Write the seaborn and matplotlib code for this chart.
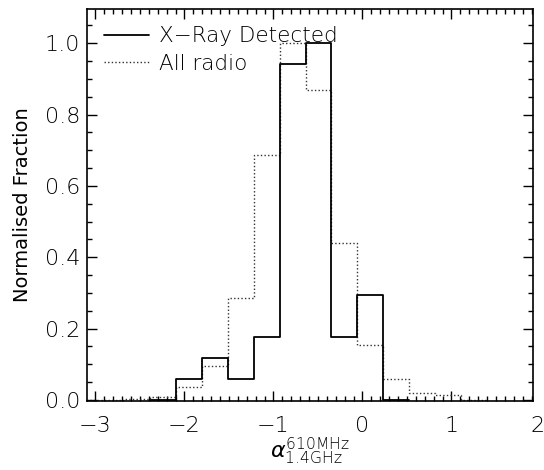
import matplotlib
matplotlib.use("Agg")
import matplotlib.pyplot as plt
from matplotlib.ticker import MultipleLocator
import numpy as np
import pandas as pd
import seaborn as sns

# bins (spectral index); empty end bins close the outline
bin_width = 0.292
xray_edges = list(-2.392 + bin_width * np.arange(11))
xray_frac = [0.0, 0.059, 0.118, 0.059, 0.176, 0.941, 1.0, 0.176, 0.294, 0.0]

radio_edges = list(-3.268 + bin_width * np.arange(17))
radio_frac = [0.0, 0.001, 0.003, 0.007, 0.037, 0.095, 0.287, 0.687, 1.0,
              0.869, 0.441, 0.154, 0.058, 0.019, 0.013, 0.0]

xticks = [-3, -2, -1, 0, 1, 2]
yticks = [0.0, 0.2, 0.4, 0.6, 0.8, 1.0]

sns.set_style("ticks")
plt.rcParams["font.family"] = ["DejaVu Sans"]
plt.rcParams["font.weight"] = "light"
plt.rcParams["text.color"] = "black"
plt.rcParams["axes.labelcolor"] = "black"

fig = plt.figure(figsize=(5.44, 4.70), dpi=100)
ax = fig.add_axes([87 / 544, 69 / 470, 446 / 544, 392 / 470])

radio_df = pd.DataFrame({"alpha": np.convolve(radio_edges, [0.5, 0.5], "valid"),
                         "frac": radio_frac})
xray_df = pd.DataFrame({"alpha": np.convolve(xray_edges, [0.5, 0.5], "valid"),
                        "frac": xray_frac})

sns.histplot(data=radio_df, x="alpha", weights="frac", bins=radio_edges,
             element="step", fill=False, color="#333333", linewidth=1.0,
             linestyle=(0, (1, 1.6)), label="All radio", ax=ax)
sns.histplot(data=xray_df, x="alpha", weights="frac", bins=xray_edges,
             element="step", fill=False, color="black", linewidth=1.3,
             label="X\u2212Ray Detected", ax=ax)

ax.set_xlim(-3.095, 1.916)
ax.set_ylim(-0.003, 1.096)
ax.set_xticks(xticks[:-1])
ax.set_xticklabels(["\u22123", "\u22122", "\u22121", "0", "1"])
ax.text(1.965, -0.038, "2", transform=ax.get_xaxis_transform(), ha="center",
        va="top", fontsize=16, clip_on=False)
ax.set_yticks(yticks)
ax.set_yticklabels([f"{v:.1f}" for v in yticks])
ax.xaxis.set_minor_locator(MultipleLocator(0.1))
ax.yaxis.set_minor_locator(MultipleLocator(0.05))
ax.tick_params(which="both", direction="in", top=True, right=True,
               width=1.0, colors="black", labelsize=16)
ax.tick_params(which="major", length=7)
ax.tick_params(which="minor", length=3.5)
ax.tick_params(axis="x", pad=11)
ax.tick_params(axis="y", pad=5)
for s in ax.spines.values():
    s.set_linewidth(1.2)
    s.set_color("black")
    s.set_visible(True)

ax.set_ylabel("Normalised Fraction", fontsize=14, labelpad=9)
ax.set_xlabel(r"$\alpha^{\rm 610MHz}_{\rm 1.4GHz}$", fontsize=16, labelpad=0)

h, l = ax.get_legend_handles_labels()
ax.legend(h[::-1], l[::-1], loc="upper left", frameon=False, fontsize=15.5,
          handlelength=2.1, handletextpad=0.45, labelspacing=0.35,
          borderaxespad=0.4, bbox_to_anchor=(0.0, 1.0), labelcolor="black")

fig.savefig("out.png", dpi=100)
